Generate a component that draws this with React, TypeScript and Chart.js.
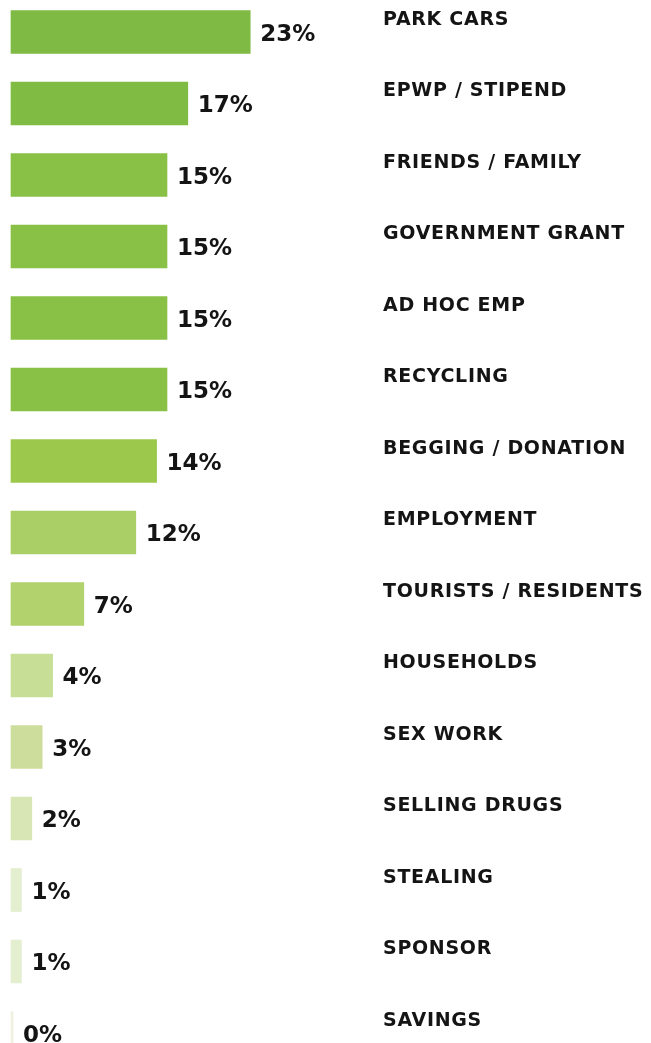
import React, { useEffect, useRef } from "react";
import { Chart, registerables } from "chart.js";

Chart.register(...registerables);

const categories = [
  "PARK CARS",
  "EPWP / STIPEND",
  "FRIENDS / FAMILY",
  "GOVERNMENT GRANT",
  "AD HOC EMP",
  "RECYCLING",
  "BEGGING / DONATION",
  "EMPLOYMENT",
  "TOURISTS / RESIDENTS",
  "HOUSEHOLDS",
  "SEX WORK",
  "SELLING DRUGS",
  "STEALING",
  "SPONSOR",
  "SAVINGS",
];

const values = [23, 17, 15, 15, 15, 15, 14, 12, 7, 4, 3, 2, 1, 1, 0.2];
const valueLabels = ["23%", "17%", "15%", "15%", "15%", "15%", "14%", "12%", "7%", "4%", "3%", "2%", "1%", "1%", "0%"];

const barColors = [
  "#7fba44",
  "#80bb44",
  "#89c046",
  "#89c046",
  "#89c046",
  "#89c046",
  "#9cc84b",
  "#aacf66",
  "#b1d26d",
  "#c6de96",
  "#cddd9b",
  "#d8e6b6",
  "#e4efd0",
  "#e4efd0",
  "#f0f1e0",
];

const labelPlugin = {
  id: "customLabels",
  afterDatasetsDraw(chart: any) {
    const ctx = chart.ctx;
    const meta = chart.getDatasetMeta(0);
    ctx.save();
    meta.data.forEach((bar: any, i: number) => {
      const y = bar.y;
      ctx.fillStyle = "#141414";
      ctx.textBaseline = "middle";
      ctx.textAlign = "left";
      ctx.letterSpacing = "0px";
      ctx.font = "bold 23px 'DejaVu Sans'";
      ctx.fillText(valueLabels[i], bar.x + 10, y + 3);
      ctx.letterSpacing = "0.7px";
      ctx.font = "bold 19px 'DejaVu Sans'";
      ctx.fillText(categories[i], 383, y - 12);
    });
    ctx.restore();
  },
};

export default function App() {
  const canvasRef = useRef<HTMLCanvasElement | null>(null);

  useEffect(() => {
    document.body.style.margin = "0";
    const canvas = canvasRef.current;
    if (!canvas) return;
    const chart = new Chart(canvas, {
      type: "bar",
      data: {
        labels: categories,
        datasets: [
          {
            data: values,
            backgroundColor: barColors,
            borderWidth: 0,
            barThickness: 43,
            clip: false as any,
          },
        ],
      },
      options: {
        indexAxis: "y",
        responsive: false,
        animation: false,
        layout: { padding: { left: 11, right: 276, top: 32, bottom: 10 } },
        plugins: {
          legend: { display: false },
          tooltip: { enabled: false },
        },
        scales: {
          x: { display: false, min: 0, max: 35 },
          y: { display: false, offset: false },
        },
      },
      plugins: [labelPlugin],
    });
    return () => chart.destroy();
  }, []);

  return <canvas ref={canvasRef} width={651} height={1043} style={{ display: "block" }} />;
}
